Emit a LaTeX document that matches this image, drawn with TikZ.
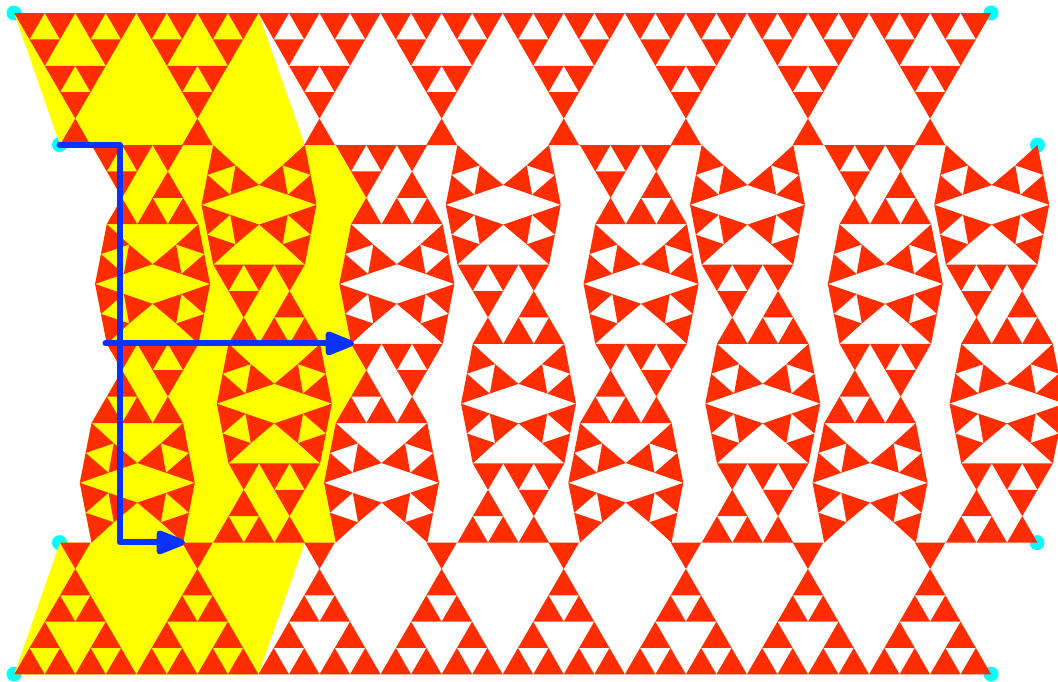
\documentclass[tikz,border=0pt]{standalone}
\usetikzlibrary{arrows.meta}
\definecolor{tilered}{RGB}{255,45,0}
\definecolor{tileyellow}{RGB}{255,255,0}
\definecolor{routeblue}{RGB}{10,50,255}
\definecolor{dotcyan}{RGB}{0,255,255}
\newcommand{\tridown}[2]{\fill[tile] (#1,#2) -- ++(1,0) -- ++(-.5,1) -- cycle;}
\newcommand{\triup}[2]{\fill[tile] (#1,#2) -- ++(.5,1) -- ++(-1,0) -- cycle;}
\newcommand{\bandbody}{\tridown{0}{0}\tridown{1}{0}\tridown{2}{0}\tridown{3}{0}\tridown{.5}{1}\tridown{2.5}{1}\tridown{1}{2}\tridown{2}{2}\tridown{1.5}{3}\triup{2}{4}}
\newcommand{\stripbody}{\tridown{0}{0}\tridown{1}{0}\tridown{2}{0}\tridown{.5}{1}\triup{2.5}{1}\triup{1}{2}\triup{2}{2}\triup{3}{2}}
\newcommand{\stripcell}[2]{\begin{scope}[x=30.53pt,y=-26.4pt,xshift=#1pt,yshift=-#2pt]\stripbody\end{scope}}
\newcommand{\mirrorcell}[2]{\begin{scope}[x=-30.53pt,y=-26.4pt,xshift={(#1+91.59)*1pt},yshift=-#2pt]\stripbody\end{scope}}
\newcommand{\hexcell}[2]{\foreach \sx in {1,-1}\foreach \sy in {1,-1}{
    \begin{scope}[xshift=#1pt,yshift=-#2pt,xscale=\sx,yscale=\sy]
    \fill[tile] (-45.8,-59.8) -- (-23.5,-39.5) -- (-51.65,-29.9) -- cycle;
    \fill[tile] (-23.5,-39.5) -- (0,-19.8) -- (-28.75,-10) -- cycle;
    \fill[tile] (-51.65,-29.9) -- (-28.75,-10) -- (-57.5,0) -- cycle;
    \end{scope}}}

\begin{document}
\begin{tikzpicture}[
    x=1pt, y=-1pt,
    tile/.style={fill=tilered},
    dot/.style={circle, fill=dotcyan, inner sep=0pt, minimum size=15pt},
    route/.style={-{Triangle[length=34pt,width=25pt,round]}, line width=6pt, routeblue, line cap=round, line join=round}
]
\useasboundingbox (0,0) rectangle (1058,681);
\clip (0,0) rectangle (1058,681);

\node[dot] (topleft) at (14,13) {};
\node[dot] (topright) at (991,13) {};
\node[dot] (upleft) at (59.5,144.6) {};
\node[dot] (upright) at (1037.5,145) {};
\node[dot] (lowleft) at (59.5,542.6) {};
\node[dot] (lowright) at (1037,542.6) {};
\node[dot] (botleft) at (14,674) {};
\node[dot] (botright) at (991,674) {};

% yellow part behind the first cells
\fill[tileyellow] (14.2,13) -- (258.4,13) -- (304.8,145) -- (335.7,145) -- (366.3,197.8) -- (351,224.2)
    -- (345.2,254.1) -- (339.4,284) -- (345.2,313.9) -- (351,343.8) -- (366.3,370.2) -- (351,396.6)
    -- (335.7,423) -- (329.9,452.9) -- (324,482.8) -- (329.9,512.7) -- (335.7,542.6) -- (304.8,542.6)
    -- (258.4,674.3) -- (14.2,674.3) -- (60,542.6) -- (91.5,542.6) -- (85.65,512.7) -- (79.8,482.8)
    -- (85.65,452.9) -- (91.5,423) -- (106.8,396.6) -- (122,370.2) -- (106.8,343.8) -- (100.95,313.9)
    -- (95.1,284) -- (100.95,254.1) -- (106.8,224.2) -- (122,197.8) -- (91.5,145) -- (60,145) -- cycle;

% top and bottom bands
\foreach \k in {0,...,7} {
    \pgfmathsetmacro{\dx}{14.2+\k*122.12}
    \begin{scope}[x=30.53pt,y=-26.4pt,xshift=\dx pt,yshift=-13pt]\bandbody\end{scope}
    \begin{scope}[x=30.53pt,y=26.34pt,xshift=\dx pt,yshift=-674.3pt]\bandbody\end{scope}
}

% middle bands
\foreach \k in {0,...,3} {
    \pgfmathsetmacro{\dx}{\k*244.24}
    \begin{scope}[xshift=\dx pt]
    \stripcell{91.5}{145}
    \hexcell{152.6}{284}
    \hexcell{259}{204.8}
    \stripcell{213.2}{264.6}
    \mirrorcell{106.8}{343.8}
    \hexcell{137.3}{482.8}
    \hexcell{274.3}{403.6}
    \mirrorcell{228.5}{463.4}
    \end{scope}
}

\coordinate (turntop) at (120,144.6);
\coordinate (turnbot) at (120,542.4);
\coordinate (tiplow) at (185,542.4);
\coordinate (startmid) at (105.5,343.4);
\coordinate (tipmid) at (354,343.4);
\draw[route] (upleft.center) -- (turntop) -- (turnbot) -- (tiplow);
\draw[route] (startmid) -- (tipmid);
\end{tikzpicture}
\end{document}
